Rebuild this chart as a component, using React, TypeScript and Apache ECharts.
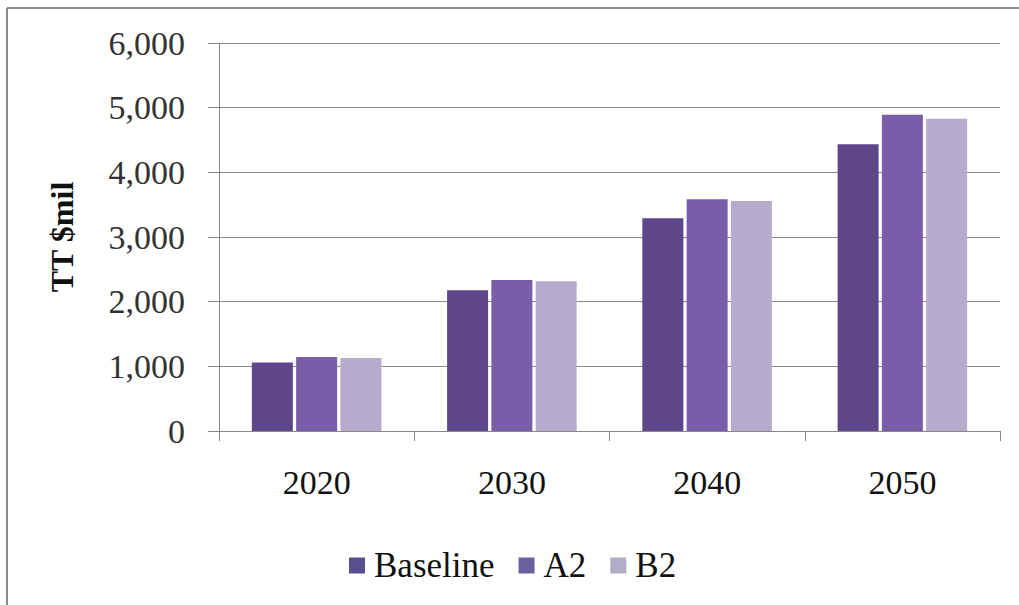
import React, { useEffect, useRef } from "react";
import * as echarts from "echarts";

const categories = ["2020", "2030", "2040", "2050"];
const baseline = [1060, 2175, 3290, 4435];
const a2 = [1145, 2335, 3585, 4890];
const b2 = [1130, 2315, 3555, 4830];
const seriesNames = ["Baseline", "A2", "B2"];
const yTicks = { min: 0, max: 6000, interval: 1000 };
const yTitle = "TT $mil";

const barColors = ["#5e4689", "#7b5ca9", "#b6abcc"];
const legendColors = ["#5b4e8e", "#6b5fa0", "#b1adc6"];

export default function App() {
  const ref = useRef<HTMLDivElement>(null);
  useEffect(() => {
    if (!ref.current) return;
    const chart = echarts.init(ref.current, null, { renderer: "svg" });
    const font = "'Liberation Serif', serif";
    const data = [baseline, a2, b2];
    chart.setOption({
      animation: false,
      backgroundColor: "#ffffff",
      textStyle: { fontFamily: font },
      graphic: [
        {
          type: "line",
          shape: { x1: 7, y1: 8, x2: 1019, y2: 8 },
          style: { stroke: "#8c8c8c", lineWidth: 2 },
          silent: true,
        },
        {
          type: "line",
          shape: { x1: 7, y1: 8, x2: 7, y2: 605 },
          style: { stroke: "#8c8c8c", lineWidth: 2 },
          silent: true,
        },
      ],
      grid: { left: 219, right: 19, top: 43, bottom: 174, containLabel: false },
      legend: {
        left: 344,
        top: 543,
        itemWidth: 16,
        itemHeight: 16,
        itemGap: 24,
        icon: "rect",
        textStyle: { fontFamily: font, fontSize: 35, color: "#111", padding: [0, 0, 0, 4] },
        data: seriesNames.map((n, i) => ({ name: n, itemStyle: { color: legendColors[i] } })),
      },
      xAxis: {
        type: "category",
        data: categories,
        axisLine: { show: true, lineStyle: { color: "#888", width: 1 } },
        axisTick: { show: true, length: 10, lineStyle: { color: "#888" } },
        axisLabel: { fontFamily: font, fontSize: 34, color: "#111", margin: 34 },
      },
      yAxis: {
        type: "value",
        min: yTicks.min,
        max: yTicks.max,
        interval: yTicks.interval,
        name: yTitle,
        nameLocation: "middle",
        nameGap: 141,
        nameRotate: 90,
        nameTextStyle: { fontFamily: font, fontSize: 32, fontWeight: "bold", color: "#111" },
        axisLine: { show: true, lineStyle: { color: "#888", width: 1 } },
        axisTick: { show: true, length: 11, lineStyle: { color: "#888" } },
        splitLine: { show: true, lineStyle: { color: "#8a8a8a", width: 1 } },
        axisLabel: {
          fontFamily: font,
          fontSize: 34,
          color: "#333",
          margin: 34,
          formatter: (v: number) => v.toLocaleString("en-US"),
        },
      },
      series: seriesNames.map((n, i) => ({
        name: n,
        type: "bar",
        data: data[i],
        barWidth: 41,
        barGap: "8%",
        itemStyle: { color: barColors[i] },
      })),
    });
    return () => chart.dispose();
  }, []);
  return (
    <div
      ref={ref}
      style={{ position: "absolute", left: 0, top: 0, width: 1019, height: 605 }}
    />
  );
}
